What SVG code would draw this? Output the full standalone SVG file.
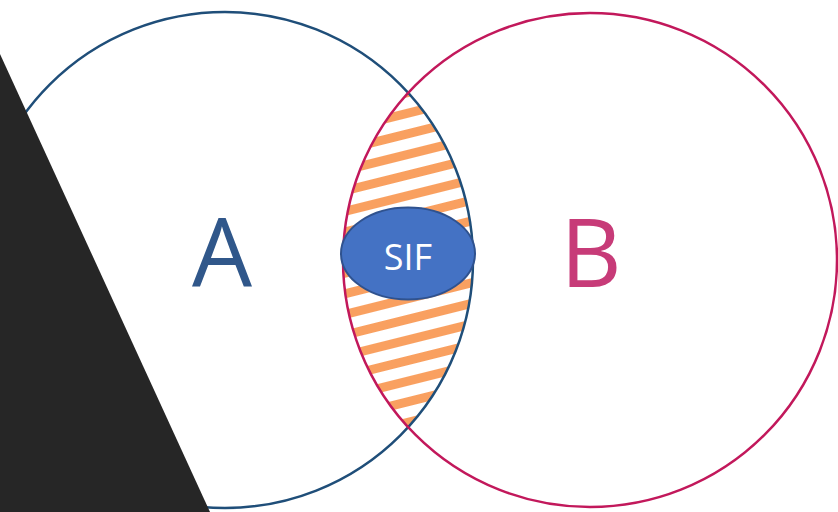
<svg xmlns="http://www.w3.org/2000/svg" width="838" height="512" viewBox="0 0 838 512">
  <style>
    .ring { fill: none; stroke-width: 2.5; }
    .big { font-family: "Open Sans", "Liberation Sans", sans-serif; font-size: 95px; text-anchor: middle; }
  </style>
  <defs>
    <pattern id="stripes" patternUnits="userSpaceOnUse" width="40" height="20" patternTransform="rotate(-14) translate(0,4)">
      <rect x="0" y="0" width="40" height="9" fill="#F9A060"/>
    </pattern>
    <clipPath id="clipA">
      <circle cx="225" cy="260" r="248"/>
    </clipPath>
  </defs>
  <rect width="838" height="512" fill="#FFFFFF"/>
  <g id="lens">
    <circle cx="590" cy="260" r="247" fill="url(#stripes)" clip-path="url(#clipA)"/>
  </g>
  <g id="circleA">
    <circle class="ring" cx="225" cy="260" r="248" stroke="#1F4E79"/>
    <text class="big" x="222" y="287" fill="#30578A">A</text>
  </g>
  <g id="circleB">
    <circle class="ring" cx="590" cy="260" r="247" stroke="#C2185B"/>
    <text class="big" x="591" y="287" fill="#C73B78">B</text>
  </g>
  <g id="sif">
    <ellipse cx="408" cy="253.5" rx="67" ry="46" fill="#4472C4" stroke="#2F528F" stroke-width="2"/>
    <text x="408" y="270" font-family="Open Sans, Liberation Sans, sans-serif" font-size="36" fill="#FFFFFF" text-anchor="middle">SIF</text>
  </g>
  <g id="connectors"/>
  <polygon points="0,54 210,512 0,512" fill="#262626"/>
</svg>
